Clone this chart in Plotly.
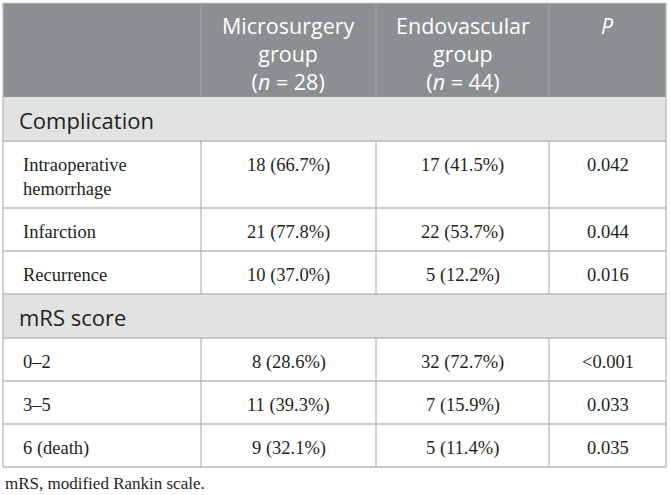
import plotly.graph_objects as go

# ---------------- data ----------------
header_labels = ["", "Microsurgery<br>group<br>(<i>n</i> = 28)", "Endovascular<br>group<br>(<i>n</i> = 44)", "<i>P</i>"]
sections = ["Complication", "mRS score"]
complication_labels = ["Intraoperative<br>hemorrhage", "Infarction", "Recurrence"]
complication_micro = ["18 (66.7%)", "21 (77.8%)", "10 (37.0%)"]
complication_endo = ["17 (41.5%)", "22 (53.7%)", "5 (12.2%)"]
complication_p = ["0.042", "0.044", "0.016"]
mrs_labels = ["0–2", "3–5", "6 (death)"]
mrs_micro = ["8 (28.6%)", "11 (39.3%)", "9 (32.1%)"]
mrs_endo = ["32 (72.7%)", "7 (15.9%)", "5 (11.4%)"]
mrs_p = ["<0.001", "0.033", "0.035"]
footnote = "mRS, modified Rankin scale."

# ---------------- layout constants ----------------
W, H = 670, 495
col_edges = [3, 201, 376, 549, 666]
top = 3
header_h = 94
section_h = 44
line_h = 23
single_h = 43
extra_per_line = 24

HEADER_BG = "#8a8f92"
HEADER_DIV = "#a3a7aa"
SECTION_BG = "#e1e3e3"
GRID = "#b8b9b9"
TEXT = "#231f20"
SANS = "Open Sans"
SERIF = "Liberation Serif"

# build row structure
rows = [("section", sections[0], None)]
for i in range(len(complication_labels)):
    rows.append(("data", complication_labels[i], (complication_micro[i], complication_endo[i], complication_p[i])))
rows.append(("section", sections[1], None))
for i in range(len(mrs_labels)):
    rows.append(("data", mrs_labels[i], (mrs_micro[i], mrs_endo[i], mrs_p[i])))

shapes = []
annotations = []

def rect(x0, y0, x1, y1, fill):
    shapes.append(dict(type="rect", xref="x", yref="y", x0=x0, y0=y0, x1=x1, y1=y1,
                       fillcolor=fill, line=dict(width=0), layer="below"))

def hline(x0, x1, y, color=GRID, width=1.3):
    shapes.append(dict(type="line", xref="x", yref="y", x0=x0, x1=x1, y0=y, y1=y,
                       line=dict(color=color, width=width)))

def vline(x, y0, y1, color=GRID, width=1.3):
    shapes.append(dict(type="line", xref="x", yref="y", x0=x, x1=x, y0=y0, y1=y1,
                       line=dict(color=color, width=width)))

def text(x, y, s, font, size, color, xanchor="center", yanchor="middle", align="center"):
    annotations.append(dict(x=x, y=y, xref="x", yref="y", text=s, showarrow=False,
                            xanchor=xanchor, yanchor=yanchor, align=align,
                            font=dict(family=font, size=size, color=color)))

# header
y = top
rect(col_edges[0], y, col_edges[-1], y + header_h, HEADER_BG)
for c in range(1, len(col_edges) - 1):
    vline(col_edges[c], y, y + header_h, color=HEADER_DIV, width=1)
for c, lab in enumerate(header_labels):
    if not lab:
        continue
    cx = (col_edges[c] + col_edges[c + 1]) / 2
    text(cx, y + 6, lab, SANS, 21.5, "white", yanchor="top")
hline(col_edges[0], col_edges[-1], top, color="#c9cbcc", width=1)
y += header_h

# body
for kind, label, vals in rows:
    if kind == "section":
        rect(col_edges[0], y, col_edges[-1], y + section_h, SECTION_BG)
        text(col_edges[0] + 14, y + section_h / 2 + 1, label, SANS, 22, TEXT, xanchor="left")
        hline(col_edges[0], col_edges[-1], y + section_h)
        y += section_h
    else:
        lines = label.split("<br>")
        h = single_h + extra_per_line * (len(lines) - 1)
        text(col_edges[0] + 18, y + 12, label, SERIF, 18.5, TEXT, xanchor="left",
             yanchor="top", align="left")
        for c, v in enumerate(vals, start=1):
            cx = (col_edges[c] + col_edges[c + 1]) / 2
            text(cx, y + 24, v, SERIF, 18.5, TEXT)
        for c in range(1, len(col_edges) - 1):
            vline(col_edges[c], y, y + h)
        hline(col_edges[0], col_edges[-1], y + h)
        y += h

# outer border
vline(col_edges[0], top, y, color=GRID)
vline(col_edges[-1], top, y, color=GRID)

# footnote
text(col_edges[0], y + 16, footnote, SERIF, 17, TEXT, xanchor="left")

fig = go.Figure()
fig.add_trace(go.Scatter(x=[0, W], y=[0, H], mode="markers", marker=dict(opacity=0),
                         hoverinfo="skip", showlegend=False))
fig.update_layout(
    width=W, height=H, margin=dict(l=0, r=0, t=0, b=0),
    paper_bgcolor="white", plot_bgcolor="white",
    xaxis=dict(range=[0, W], visible=False, fixedrange=True),
    yaxis=dict(range=[H, 0], visible=False, fixedrange=True),
    shapes=shapes, annotations=annotations, showlegend=False,
)
fig.write_html("out.html", config={"displayModeBar": False},
               post_script="document.body.style.margin='0';document.body.style.padding='0';")
